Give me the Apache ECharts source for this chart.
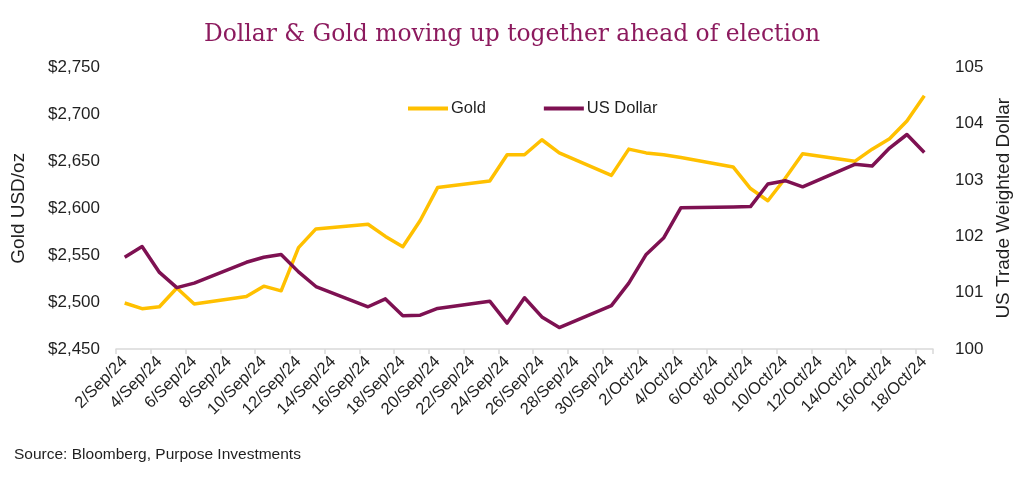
<!DOCTYPE html>
<html>
<head>
<meta charset="utf-8">
<script src="https://cdn.jsdelivr.net/npm/echarts@6/dist/echarts.min.js"></script>
<style>
html,body{margin:0;padding:0;background:#fff;}
#chart{width:1024px;height:483px;}
</style>
</head>
<body>
<div id="chart"></div>
<script>
// Calendar days 2 Sep 2024 – 18 Oct 2024 (weekends have no prices)
const dayLabels = [
  "2/Sep/24","3/Sep/24","4/Sep/24","5/Sep/24","6/Sep/24","7/Sep/24","8/Sep/24",
  "9/Sep/24","10/Sep/24","11/Sep/24","12/Sep/24","13/Sep/24","14/Sep/24","15/Sep/24",
  "16/Sep/24","17/Sep/24","18/Sep/24","19/Sep/24","20/Sep/24","21/Sep/24","22/Sep/24",
  "23/Sep/24","24/Sep/24","25/Sep/24","26/Sep/24","27/Sep/24","28/Sep/24","29/Sep/24",
  "30/Sep/24","1/Oct/24","2/Oct/24","3/Oct/24","4/Oct/24","5/Oct/24","6/Oct/24",
  "7/Oct/24","8/Oct/24","9/Oct/24","10/Oct/24","11/Oct/24","12/Oct/24","13/Oct/24",
  "14/Oct/24","15/Oct/24","16/Oct/24","17/Oct/24","18/Oct/24"
];

const gold = [
  2499, 2493, 2495, 2515, 2498, null, null,
  2506, 2517, 2512, 2558, 2578, null, null,
  2583, 2570, 2559, 2587, 2622, null, null,
  2629, 2657, 2657, 2673, 2659, null, null,
  2635, 2663, 2659, 2657, 2654, null, null,
  2644, 2621, 2608, 2632, 2658, null, null,
  2650, 2663, 2674, 2693, 2720
];

const usDollar = [
  101.63, 101.82, 101.36, 101.09, 101.17, null, null,
  101.54, 101.63, 101.68, 101.37, 101.11, null, null,
  100.75, 100.89, 100.59, 100.60, 100.72, null, null,
  100.85, 100.46, 100.91, 100.57, 100.38, null, null,
  100.77, 101.17, 101.68, 101.97, 102.51, null, null,
  102.52, 102.53, 102.93, 102.99, 102.88, null, null,
  103.28, 103.25, 103.57, 103.81, 103.49
];

const titleText = "Dollar & Gold moving up together ahead of election";
const seriesNames = ["Gold", "US Dollar"];
const leftAxisName = "Gold USD/oz";
const rightAxisName = "US Trade Weighted Dollar";
const sourceText = "Source: Bloomberg, Purpose Investments";

const GOLD = "#FFC000";
const USD = "#7E1152";
const TXT = "#1f1f1f";
const FONT = "'Liberation Sans', Arial, sans-serif";

const chart = echarts.init(document.getElementById('chart'), null, {renderer: 'canvas'});
chart.setOption({
  animation: false,
  backgroundColor: '#ffffff',
  title: {
    text: titleText,
    left: 'center',
    top: 18,
    textStyle: {
      fontFamily: "'DejaVu Serif', Georgia, serif",
      fontSize: 23.4,
      fontWeight: 'normal',
      color: '#8C1A5E'
    }
  },
  legend: {
    data: seriesNames,
    left: 403,
    top: 95,
    itemWidth: 40,
    itemHeight: 4,
    itemGap: 58,
    icon: 'rect',
    textStyle: { fontFamily: FONT, fontSize: 16.5, color: TXT, padding: [0, 0, 0, -2] }
  },
  grid: { left: 116, right: 91, top: 67.5, bottom: 134, containLabel: false },
  xAxis: {
    type: 'category',
    data: dayLabels,
    boundaryGap: true,
    axisLine: { show: true, lineStyle: { color: '#d9d9d9', width: 1.5 } },
    axisTick: { show: true, interval: 1, length: 5, inside: false, lineStyle: { color: '#d9d9d9', width: 1.5 } },
    axisLabel: {
      interval: 1,
      rotate: 45,
      margin: 10,
      fontFamily: FONT,
      fontSize: 16.5,
      color: TXT
    },
    splitLine: { show: false }
  },
  yAxis: [
    {
      type: 'value',
      min: 2450, max: 2750, interval: 50,
      position: 'left',
      name: leftAxisName,
      nameLocation: 'middle',
      nameRotate: 90,
      nameGap: 88,
      nameTextStyle: { fontFamily: FONT, fontSize: 19, color: TXT },
      axisLine: { show: false },
      axisTick: { show: false },
      splitLine: { show: false },
      axisLabel: {
        margin: 16,
        fontFamily: FONT, fontSize: 17, color: TXT,
        formatter: v => '$' + v.toLocaleString('en-US')
      }
    },
    {
      type: 'value',
      min: 100, max: 105, interval: 1,
      position: 'right',
      name: rightAxisName,
      nameLocation: 'middle',
      nameRotate: 90,
      nameGap: 61,
      nameTextStyle: { fontFamily: FONT, fontSize: 19, color: TXT },
      axisLine: { show: false },
      axisTick: { show: false },
      splitLine: { show: false },
      axisLabel: { margin: 22, fontFamily: FONT, fontSize: 17, color: TXT }
    }
  ],
  series: [
    {
      name: seriesNames[0],
      type: 'line',
      yAxisIndex: 0,
      data: gold,
      connectNulls: true,
      showSymbol: false,
      symbol: 'none',
      lineStyle: { color: GOLD, width: 3.5, join: 'round' },
      itemStyle: { color: GOLD },
      z: 2
    },
    {
      name: seriesNames[1],
      type: 'line',
      yAxisIndex: 1,
      data: usDollar,
      connectNulls: true,
      showSymbol: false,
      symbol: 'none',
      lineStyle: { color: USD, width: 3.5, join: 'round' },
      itemStyle: { color: USD },
      z: 3
    }
  ],
  graphic: [
    {
      type: 'text',
      left: 14,
      top: 447,
      style: { text: sourceText, fontFamily: FONT, fontSize: 15.5, fill: TXT }
    }
  ]
});
</script>
</body>
</html>
